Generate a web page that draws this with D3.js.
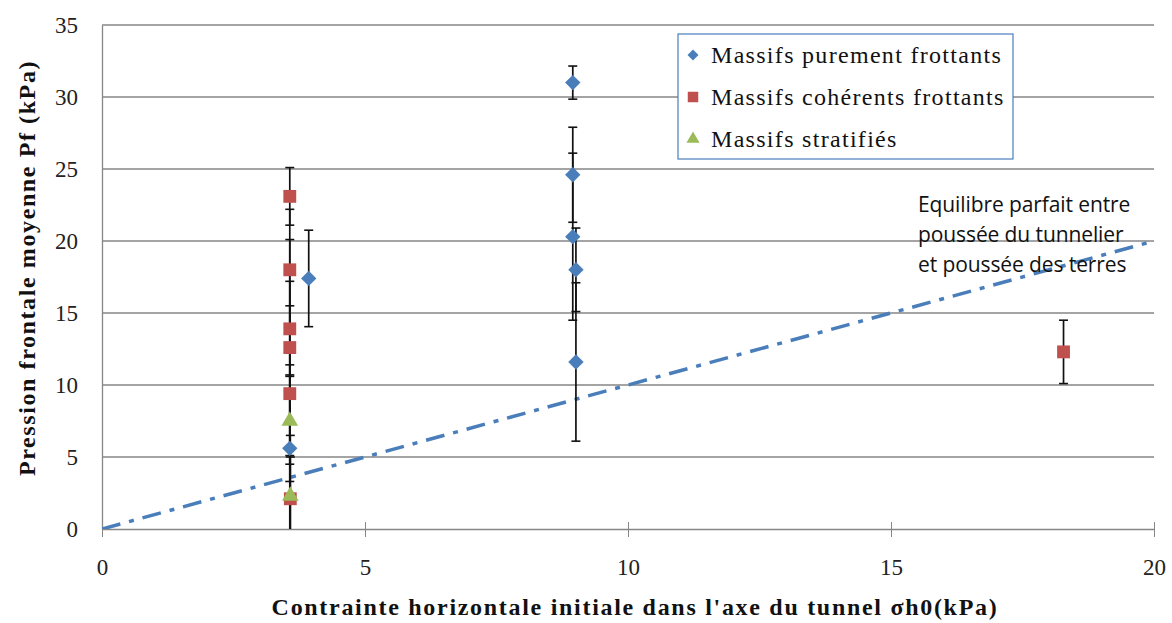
<!DOCTYPE html>
<html><head><meta charset="utf-8">
<script src="https://cdn.jsdelivr.net/npm/d3@7"></script>
<style>body{margin:0;background:#fff}svg{display:block}</style>
</head><body><svg id="c" width="1172" height="623"></svg>
<script>
const xTicks=[0,5,10,15,20];
const yTicks=[0,5,10,15,20,25,30,35];
const seriesNames=["Massifs purement frottants","Massifs cohérents frottants","Massifs stratifiés"];
// Massifs purement frottants
const frotX=[3.57,3.93,8.95,8.95,8.95,9.01,9.01];
const frotY=[5.6,17.4,31.0,24.6,20.3,18.0,11.6];
const frotErr=[5.8,3.35,1.15,3.3,5.8,2.9,5.5];
// Massifs cohérents frottants
const cohX=[3.57,3.57,3.57,3.57,3.57,3.58,18.28];
const cohY=[23.1,18.0,13.9,12.6,9.4,2.1,12.3];
const cohErr=[2.0,4.2,3.3,7.5,6.1,4.4,2.2];
// Massifs stratifiés
const strX=[3.57,3.58];
const strY=[7.6,2.4];
const strErr=[3.1,2.6];
const lineX=[0,20];
const lineY=[0,20];
const annot=["Equilibre parfait entre","poussée du tunnelier","et poussée des terres"];

const svg=d3.select("#c");
const x=d3.scaleLinear().domain([0,20]).range([102,1154]);
const y=d3.scaleLinear().domain([0,35]).range([529,25]);
const serif="'Liberation Serif','DejaVu Serif',serif";

svg.append("defs").append("clipPath").attr("id","pc").append("rect")
  .attr("x",102).attr("y",20).attr("width",1060).attr("height",509);

// gridlines
svg.append("g").selectAll("line").data(yTicks.filter(d=>d>0)).join("line")
  .attr("x1",x(0)).attr("x2",x(20)).attr("y1",d=>y(d)).attr("y2",d=>y(d))
  .attr("stroke","#868686").attr("stroke-width",1.3);

// y axis
const ya=svg.append("g").attr("transform",`translate(${x(0)},0)`)
  .call(d3.axisLeft(y).tickValues(yTicks).tickSize(0).tickPadding(24));
ya.select(".domain").attr("stroke","#868686").attr("stroke-width",1.3);
ya.selectAll("text").attr("font-family",serif).attr("font-size",23).attr("fill","#222");

// x axis
const xa=svg.append("g").attr("transform",`translate(0,${y(0)})`)
  .call(d3.axisBottom(x).tickValues(xTicks).tickSizeInner(8).tickSizeOuter(0).tickPadding(22));
xa.select(".domain").attr("stroke","#868686").attr("stroke-width",1.3);
xa.selectAll(".tick line").attr("stroke","#868686").attr("y1",-7).attr("y2",8);
xa.selectAll("text").attr("font-family",serif).attr("font-size",23).attr("fill","#222");

// equilibrium line
svg.append("path").attr("clip-path","url(#pc)")
  .datum(lineX.map((d,i)=>[d,lineY[i]]))
  .attr("d",d3.line().x(d=>x(d[0])).y(d=>y(d[1])))
  .attr("stroke","#4A7EBB").attr("stroke-width",3.5).attr("fill","none")
  .attr("stroke-dasharray","19,9,5,9");

const series=[
  {xs:frotX,ys:frotY,es:frotErr,color:"#4A7EBB",sym:d3.symbolSquare,size:118,rot:45,lsize:60},
  {xs:cohX,ys:cohY,es:cohErr,color:"#C0504D",sym:d3.symbolSquare,size:165,rot:0,lsize:110},
  {xs:strX,ys:strY,es:strErr,color:"#9BBB59",sym:d3.symbolTriangle,size:120,rot:0,lsize:75}
];

series.forEach(s=>{
  const data=s.xs.map((d,i)=>({x:d,y:s.ys[i],e:s.es[i]}));
  const g=svg.append("g").attr("clip-path","url(#pc)");
  g.selectAll("line.v").data(data).join("line").attr("class","v")
    .attr("x1",d=>x(d.x)).attr("x2",d=>x(d.x))
    .attr("y1",d=>y(d.y+d.e)).attr("y2",d=>y(d.y-d.e))
    .attr("stroke","#111").attr("stroke-width",1.7);
  [1,-1].forEach(sg=>{
    g.selectAll("line.c"+sg).data(data).join("line")
      .attr("x1",d=>x(d.x)-4.5).attr("x2",d=>x(d.x)+4.5)
      .attr("y1",d=>y(d.y+sg*d.e)).attr("y2",d=>y(d.y+sg*d.e))
      .attr("stroke","#111").attr("stroke-width",1.6);
  });
});
series.forEach(s=>{
  const data=s.xs.map((d,i)=>({x:d,y:s.ys[i]}));
  svg.append("g").selectAll("path").data(data).join("path")
    .attr("transform",d=>`translate(${x(d.x)},${y(d.y)+(s.sym===d3.symbolTriangle?1.5:0)}) rotate(${s.rot})`)
    .attr("d",d3.symbol().type(s.sym).size(s.size)).attr("fill",s.color);
});

// legend
const lg=svg.append("g");
lg.append("rect").attr("x",678).attr("y",34).attr("width",335).attr("height",125)
  .attr("fill","#fff").attr("stroke","#4A7EBB").attr("stroke-width",1.2);
seriesNames.forEach((n,i)=>{
  const cy=55+i*42;
  const s=series[i];
  lg.append("path").attr("transform",`translate(693,${cy}) rotate(${s.rot})`)
    .attr("d",d3.symbol().type(s.sym).size(s.lsize)).attr("fill",s.color);
  lg.append("text").attr("x",711).attr("y",cy+8).text(n)
    .attr("font-family",serif).attr("font-size",24).attr("letter-spacing",1.3).attr("fill","#111");
});

// annotation
svg.append("g").selectAll("text").data(annot).join("text")
  .attr("x",918).attr("y",(d,i)=>212+i*30).text(d=>d)
  .attr("font-family","'Open Sans','Liberation Sans',sans-serif").attr("font-size",21).attr("letter-spacing",-0.1).attr("fill","#111");

// axis titles
svg.append("text").attr("x",635).attr("y",615).attr("text-anchor","middle")
  .text("Contrainte horizontale initiale dans l'axe du tunnel σh0(kPa)")
  .attr("font-family",serif).attr("font-weight","bold").attr("font-size",24).attr("letter-spacing",1.7).attr("fill","#111");
svg.append("text").attr("transform","translate(35,268) rotate(-90)").attr("text-anchor","middle")
  .text("Pression frontale moyenne  Pf  (kPa)")
  .attr("font-family",serif).attr("font-weight","bold").attr("font-size",24).attr("letter-spacing",1.6).attr("fill","#111");
</script></body></html>
